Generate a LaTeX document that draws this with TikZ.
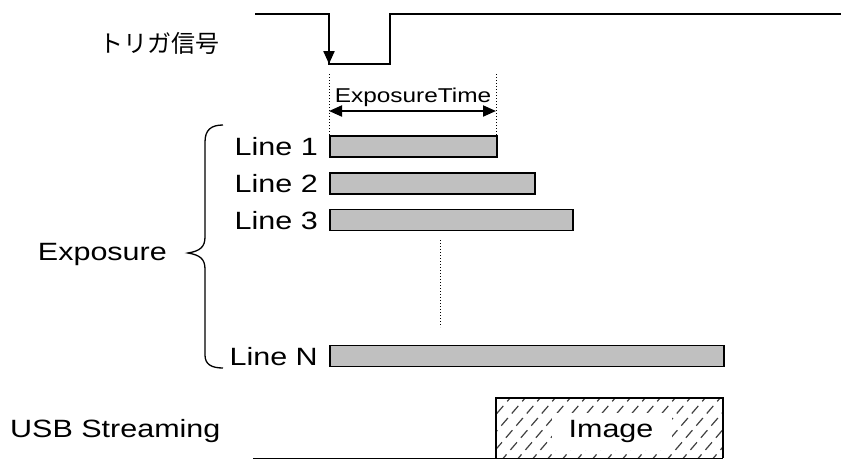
\documentclass[tikz,border=0pt]{standalone}
\usepackage{fontspec}
\setmainfont[FakeStretch=1.22]{Liberation Sans}
\newfontfamily\jpfont{Noto Sans CJK JP}
\usetikzlibrary{arrows.meta}
\definecolor{bargray}{HTML}{C0C0C0}
\begin{document}
\begin{tikzpicture}[x=1pt,y=-1pt,
  lbl/.style={inner sep=0pt, font=\fontsize{25}{25}\selectfont},
  bar/.style={draw, line width=1.5pt, fill=bargray, minimum height=21pt, inner sep=0pt, anchor=west},
  sig/.style={line width=2.2pt},
  dots/.style={line width=1pt, dotted},
  tip/.style={-{Triangle[length=13pt,width=11pt]}}
]
\useasboundingbox (0,0) rectangle (841,459);
% trigger signal
\coordinate (s0) at (255,14);
\coordinate (s1) at (329,14);
\coordinate (s2) at (329,64);
\coordinate (s3) at (390,64);
\coordinate (s4) at (390,14);
\coordinate (s5) at (841,14);
\draw[sig] (s0) -- (s1) -- (s2) -- (s3) -- (s4) -- (s5);
\draw[line width=2.2pt, tip] (s1) -- (s2);
\node[inner sep=0pt, anchor=east, font=\jpfont\fontsize{24}{24}\selectfont] (trig) at (220,43) {トリガ信号};
% exposure time
\coordinate (d1a) at (329,74);
\coordinate (d1b) at (329,136);
\coordinate (d2a) at (496,74);
\coordinate (d2b) at (496,136);
\draw[dots] (d1a) -- (d1b);
\draw[dots] (d2a) -- (d2b);
\coordinate (ea) at (329,111);
\coordinate (eb) at (496,111);
\draw[line width=2pt, {Triangle[length=13pt,width=11pt]}-{Triangle[length=13pt,width=11pt]}] (ea) -- (eb);
\node[inner sep=0pt, font=\fontsize{20}{20}\selectfont] (et) at (413,97) {ExposureTime};
% bars
\node[bar, minimum width=167pt] (b1) at (329,146.5) {};
\node[bar, minimum width=205pt] (b2) at (329,183.5) {};
\node[bar, minimum width=243pt] (b3) at (329,220) {};
\node[bar, minimum width=394pt] (bN) at (329,356) {};
\node[lbl, anchor=east] (l1) at (318,147) {Line 1};
\node[lbl, anchor=east] (l2) at (318,184) {Line 2};
\node[lbl, anchor=east] (l3) at (318,221) {Line 3};
\node[lbl, anchor=east] (lN) at (318,357) {Line N};
\coordinate (va) at (440,240);
\coordinate (vb) at (440,327);
\draw[dots] (va) -- (vb);
% brace
\draw[line width=1.3pt] (223,125) .. controls (211,125) and (205,130) .. (205,142) -- (205,237)
  .. controls (205,247) and (200,251) .. (188,253) .. controls (200,255) and (205,259) .. (205,269)
  -- (205,355) .. controls (205,364) and (211,368) .. (223,368);
\node[lbl, anchor=east] (exp) at (167,254) {Exposure};
% USB streaming
\node[lbl, anchor=west] (usb) at (10,431) {USB Streaming};
\begin{scope}
  \clip (496,398) rectangle (723,458);
  \foreach \i in {0,...,19} {
    \draw[black!75, line width=1.2pt, dash pattern=on 10pt off 6pt] (440+\i*15,462) -- (440+\i*15+62,390);
  }
\end{scope}
\fill[white] (552,413) rectangle (672,450);
\node[lbl] (img) at (611,431) {Image};
\draw[line width=1.5pt] (496,458) -- (496,398) -- (723,398) -- (723,458);
\coordinate (ba) at (253,458);
\coordinate (bb) at (723,458);
\draw[line width=1pt] (ba) -- (bb);
\end{tikzpicture}
\end{document}
